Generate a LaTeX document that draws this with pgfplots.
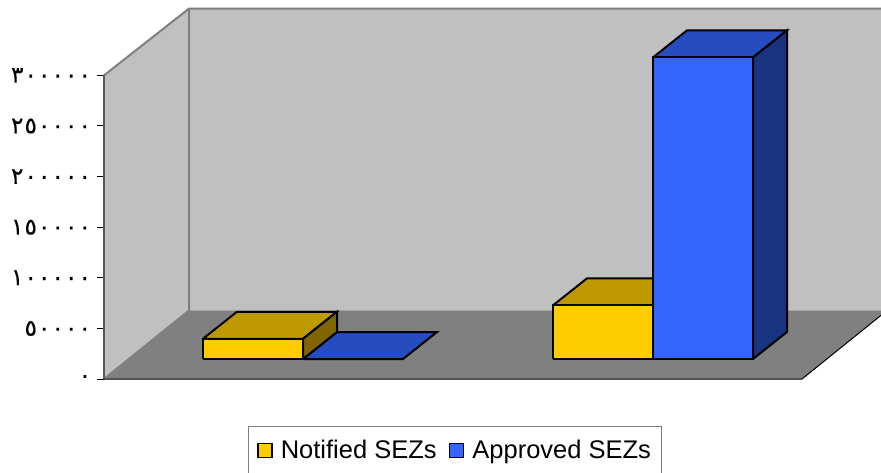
\documentclass[border=0pt]{standalone}
\usepackage{pgfplots}
\usepackage{fontspec}
\pgfplotsset{compat=1.18}
\setmainfont{Liberation Sans}
\newfontfamily\arabicfont[Script=Arabic,LetterSpace=5,FakeBold=0.4]{DejaVu Sans}
\definecolor{wall}{HTML}{C0C0C0}
\definecolor{floorc}{HTML}{808080}
\definecolor{ylw}{HTML}{FFCC00}
\definecolor{ylwtop}{HTML}{BF9900}
\definecolor{ylwside}{HTML}{806600}
\definecolor{blu}{HTML}{3366FF}
\definecolor{blutop}{HTML}{264DBF}
\definecolor{bluside}{HTML}{1A3380}

\begin{document}
\begin{tikzpicture}
\path[use as bounding box,clip] (0,0) rectangle (881pt,472pt);
\begin{axis}[
    at={(0,0)},
    anchor=south west,
    scale only axis,
    width=881pt,
    height=472pt,
    xmin=-104,
    xmax=777,
    ymin=-91884,
    ymax=374452,
    axis lines=center,
    axis line style={draw=none},
    xtick=\empty,
    ytick={0,50000,100000,150000,200000,250000,300000},
    yticklabels={٠,٥٠٠٠٠,١٠٠٠٠٠,١٥٠٠٠٠,٢٠٠٠٠٠,٢٥٠٠٠٠,٣٠٠٠٠٠},
    hide obscured y ticks=false,
    yticklabel style={font=\arabicfont\fontsize{23}{23}\selectfont,anchor=east,xshift=-6pt},
    tick align=center,
    ytick style={black,line width=1pt,xshift=-3.5pt},
    major tick length=7pt,
    legend columns=2,
    legend cell align=left,
    legend style={
        at={(axis cs:351,-70500)},
        anchor=center,
        draw=floorc,
        line width=1.2pt,
        font=\fontsize{25.5}{27}\selectfont,
        inner xsep=8.5pt,
        inner ysep=11.5pt,
        /tikz/every even column/.append style={column sep=10pt},
    },
    legend image code/.code={\draw[#1,line width=1.5pt] (0pt,-7pt) rectangle (14pt,7pt); \path (20pt,0pt);},
    poly/.style={mark=none,sharp plot,line join=miter,line width=2pt,draw=black},
]
% walls and floor
\addplot[forget plot,mark=none,fill=wall,draw=none] coordinates {(0,0) (85,67680) (85,366000) (0,300000) (0,0)};
\addplot[forget plot,mark=none,fill=wall,draw=none] coordinates {(85,67680) (800,67680) (800,366000) (85,366000) (85,67680)};
\addplot[forget plot,mark=none,fill=floorc,draw=none] coordinates {(0,0) (698,0) (783,67680) (85,67680) (0,0)};
\addplot[forget plot,mark=none,draw=floorc,line width=2pt] coordinates {(0,300000) (85,366000) (800,366000)};
\addplot[forget plot,mark=none,draw=floorc,line width=2pt] coordinates {(85,366000) (85,67680) (0,0)};
\addplot[forget plot,mark=none,draw=black,line width=1pt] coordinates {(0,0) (698,0) (783,67680)};
\addplot[forget plot,mark=none,draw=black!65,line width=2pt] coordinates {(0,0) (0,300000)};
% first group: 20000 and 0, base of the bars at 19760, depth 34 / 26676
\addplot[forget plot,poly,fill=blutop] coordinates {(199,19760) (299,19760) (333,46436) (233,46436) (199,19760)};
\addplot[forget plot,poly,fill=ylwtop] coordinates {(99,39760) (199,39760) (233,66436) (133,66436) (99,39760)};
\addplot[forget plot,poly,fill=ylwside] coordinates {(199,19760) (233,46436) (233,66436) (199,39760) (199,19760)};
\addplot[poly,fill=ylw] coordinates {(99,19760) (199,19760) (199,39760) (99,39760) (99,19760)};
% second group: 53000 and 298000
\addplot[forget plot,poly,fill=ylwtop] coordinates {(449,72760) (549,72760) (583,99436) (483,99436) (449,72760)};
\addplot[forget plot,poly,fill=ylw] coordinates {(449,19760) (549,19760) (549,72760) (449,72760) (449,19760)};
\addplot[forget plot,poly,fill=blutop] coordinates {(549,317760) (649,317760) (683,344436) (583,344436) (549,317760)};
\addplot[forget plot,poly,fill=bluside] coordinates {(649,19760) (683,46436) (683,344436) (649,317760) (649,19760)};
\addplot[poly,fill=blu] coordinates {(549,19760) (649,19760) (649,317760) (549,317760) (549,19760)};
\legend{Notified SEZs,Approved SEZs}
\end{axis}
\end{tikzpicture}
\end{document}
